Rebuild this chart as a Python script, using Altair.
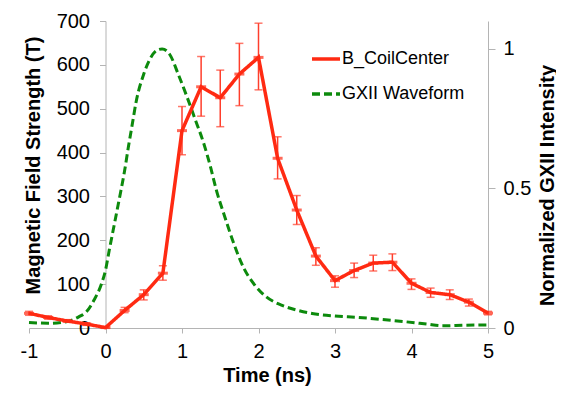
import altair as alt
import pandas as pd

# ---- data ----
time_b = [-1, -0.75, -0.5, -0.25, 0, 0.25, 0.5, 0.75, 1, 1.25, 1.5, 1.75, 2,
          2.25, 2.5, 2.75, 3, 3.25, 3.5, 3.75, 4, 4.25, 4.5, 4.75, 5]
b_center = [33.5, 24, 16, 9, 1, 40, 76, 125, 450, 550, 525, 579, 617,
            387, 269, 164, 108, 131, 148, 150, 102, 81, 76, 59, 34]
b_low = [29, 20, 13, 6, 0, 35, 64, 109, 395, 483, 459, 507, 543,
         340, 236, 143, 93, 115, 130, 131, 88, 70, 65, 50, 30]
b_high = [38, 28, 19, 12, 3, 47, 87, 142, 505, 619, 588, 649, 695,
          436, 302, 183, 119, 148, 166, 169, 112, 91, 87, 66, 38]

time_g = [-1, -0.75, -0.5, -0.35, -0.25, -0.15, -0.05, 0, 0.05, 0.1, 0.15, 0.2,
          0.25, 0.3, 0.35, 0.4, 0.5, 0.58, 0.67, 0.74, 0.84, 0.95, 1.06, 1.17,
          1.28, 1.37, 1.45, 1.56, 1.67, 1.8, 1.95, 2.1, 2.3, 2.5, 2.7, 3.0,
          3.3, 3.6, 3.9, 4.2, 4.4, 4.7, 5]
gxii = [0.020, 0.017, 0.023, 0.040, 0.058, 0.10, 0.16, 0.207, 0.28, 0.35, 0.42,
        0.49, 0.564, 0.65, 0.73, 0.81, 0.91, 0.963, 0.995, 1.0, 0.98, 0.91,
        0.832, 0.749, 0.665, 0.58, 0.493, 0.398, 0.308, 0.219, 0.154, 0.112,
        0.082, 0.064, 0.052, 0.043, 0.038, 0.031, 0.023, 0.014, 0.008, 0.010,
        0.011]

series_names = ["B_CoilCenter", "GXII Waveform"]
x_ticks = [-1, 0, 1, 2, 3, 4, 5]
left_ticks = [0, 100, 200, 300, 400, 500, 600, 700]
right_ticks = [0, 0.5, 1]

# ---- styles ----
RED = "#ff2a12"
RED_ERR = "#ff3e2c"
GREEN = "#0c8a0c"
GRAY = "#b4b4b4"
FONT = "Liberation Sans"

df_b = pd.DataFrame({"t": time_b, "B": b_center, "lo": b_low, "hi": b_high,
                     "series": series_names[0]})
df_g = pd.DataFrame({"t": time_g, "I": gxii, "series": series_names[1]})

x_axis = alt.Axis(values=x_ticks, labelExpr="'' + datum.value", tickSize=5,
                  labelPadding=8, labelFlush=False, title="Time (ns)",
                  titleX=238, titleY=47, titleBaseline="middle",
                  titleAlign="center")
x_enc = alt.X("t:Q", scale=alt.Scale(domain=[-1, 5], nice=False, zero=False),
              axis=x_axis)

left_axis = alt.Axis(orient="left", values=left_ticks, offset=-76.5, tickSize=6,
                     labelPadding=10, labelFlush=False,
                     title="Magnetic Field Strength (T)",
                     titleAngle=270, titleX=-72, titleY=144,
                     titleBaseline="middle", titleAlign="center")
left_scale = alt.Scale(domain=[0, 700], nice=False)

right_axis = alt.Axis(orient="right", values=right_ticks,
                      labelExpr="'' + datum.value", tickSize=7, labelPadding=8,
                      labelFlush=False,
                      title="Normalized GXII Intensity", titleAngle=270,
                      titleX=59, titleY=164, titleBaseline="middle",
                      titleAlign="center")

legend = alt.Legend(title=None, orient="none", legendX=281, legendY=22,
                    symbolType="stroke", symbolSize=784, symbolStrokeWidth=3.5,
                    labelFont=FONT, labelFontSize=18, labelColor="black",
                    labelOffset=0, rowPadding=10, padding=0)
color_enc = alt.Color("series:N", scale=alt.Scale(domain=series_names,
                                                  range=[RED, GREEN]),
                      legend=legend)
dash_enc = alt.StrokeDash("series:N", scale=alt.Scale(domain=series_names,
                                                       range=[[1, 0], [8, 4]]),
                          legend=legend)

green = alt.Chart(df_g).mark_line(strokeWidth=3, interpolate="monotone").encode(
    x=x_enc,
    y=alt.Y("I:Q", scale=alt.Scale(domain=[0, 1.1], nice=False), axis=right_axis),
    color=color_enc, strokeDash=dash_enc)

base_b = alt.Chart(df_b)
err = base_b.mark_rule(color=RED_ERR, strokeWidth=1.5).encode(
    x=x_enc, y=alt.Y("lo:Q", scale=left_scale, axis=left_axis), y2="hi:Q")
cap_lo = base_b.mark_tick(color=RED_ERR, orient="horizontal", size=8,
                          thickness=1.5).encode(
    x=x_enc, y=alt.Y("lo:Q", scale=left_scale, axis=left_axis))
cap_hi = base_b.mark_tick(color=RED_ERR, orient="horizontal", size=8,
                          thickness=1.5).encode(
    x=x_enc, y=alt.Y("hi:Q", scale=left_scale, axis=left_axis))
line_b = base_b.mark_line(strokeWidth=3.5).encode(
    x=x_enc, y=alt.Y("B:Q", scale=left_scale, axis=left_axis),
    color=color_enc, strokeDash=dash_enc)
marks_b = base_b.mark_tick(color=RED, orient="horizontal", size=10,
                           thickness=3).encode(
    x=x_enc, y=alt.Y("B:Q", scale=left_scale, axis=left_axis))

red = alt.layer(err, cap_lo, cap_hi, line_b, marks_b)

chart = alt.layer(green, red).resolve_scale(y="independent").properties(
    width=459, height=307,
    autosize=alt.AutoSizeParams(type="none"),
    padding={"left": 21, "top": 13, "right": 68, "bottom": 58},
    background="white",
).configure_view(stroke=None).configure_axis(
    grid=False, domainColor=GRAY, tickColor=GRAY, domainWidth=1, tickWidth=1,
    labelFont=FONT, labelFontSize=20, labelColor="black",
    titleFont=FONT, titleFontSize=20, titleFontWeight="bold", titleColor="black",
)

chart.save("out.html", embed_options={"renderer": "svg", "actions": False})
